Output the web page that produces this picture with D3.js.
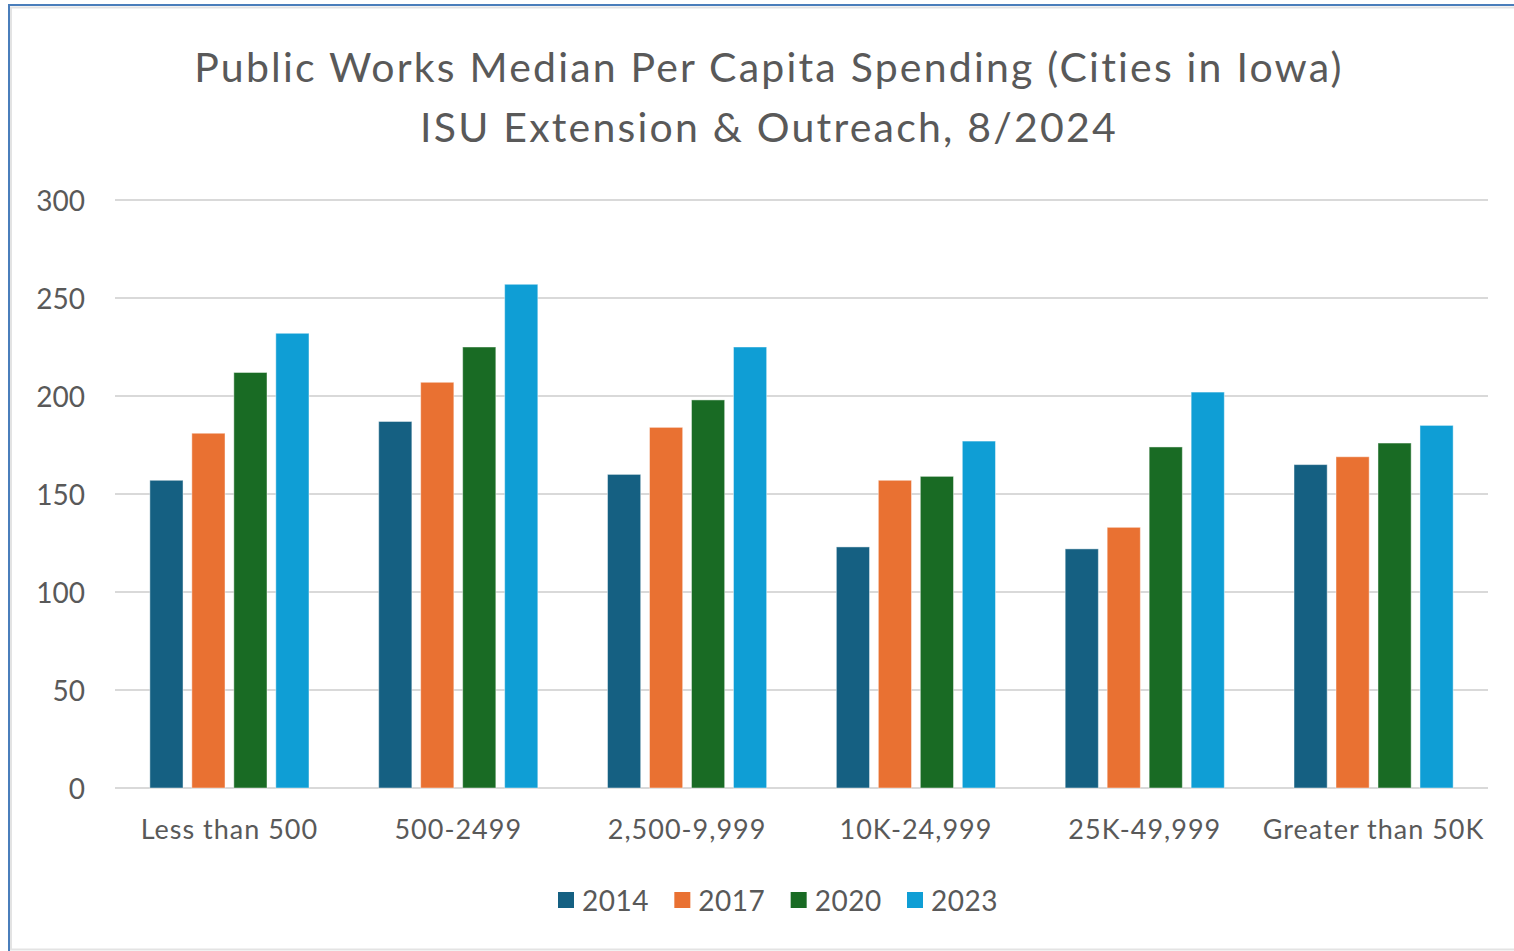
<!DOCTYPE html>
<html>
<head>
<meta charset="utf-8">
<script src="https://cdn.jsdelivr.net/npm/d3@7"></script>
<style>
  body { margin: 0; background: #fff; }
  text { font-family: Lato, "Open Sans", sans-serif; fill: #595959; font-variant-ligatures: none; }
</style>
</head>
<body>
<script>
const WIDTH = 1514
const HEIGHT = 951

const categories = ['Less than 500', '500-2499', '2,500-9,999', '10K-24,999', '25K-49,999', 'Greater than 50K']
const years = ['2014', '2017', '2020', '2023']
const colors = ['#156082', '#E97132', '#196B24', '#0F9ED5']
const values2014 = [157, 187, 160, 123, 122, 165]
const values2017 = [181, 207, 184, 157, 133, 169]
const values2020 = [212, 225, 198, 159, 174, 176]
const values2023 = [232, 257, 225, 177, 202, 185]
const yTicks = [0, 50, 100, 150, 200, 250, 300]
const titleLines = ['Public Works Median Per Capita Spending (Cities in Iowa)', 'ISU Extension & Outreach, 8/2024']

const seriesValues = [values2014, values2017, values2020, values2023]

const svg = d3.select('body').append('svg')
  .attr('width', WIDTH)
  .attr('height', HEIGHT)

// frame
svg.append('rect')
  .attr('x', 11).attr('y', 7.5)
  .attr('width', WIDTH + 20).attr('height', 942)
  .attr('fill', 'none')
  .attr('stroke', '#e3e3e3')
  .attr('stroke-width', 2)
svg.append('rect')
  .attr('x', 9).attr('y', 5)
  .attr('width', WIDTH + 20).attr('height', HEIGHT + 20)
  .attr('fill', 'none')
  .attr('stroke', '#4a7ebb')
  .attr('stroke-width', 2)

const margin = { left: 115, right: 1488, top: 200, bottom: 788 }

const x0 = d3.scaleBand()
  .domain(categories)
  .range([margin.left, margin.right])

const x1 = d3.scaleBand()
  .domain(years)
  .range([0, x0.bandwidth()])
  .paddingInner(0.21)
  .paddingOuter(0.83)

const y = d3.scaleLinear()
  .domain([0, 300])
  .range([margin.bottom, margin.top])

// gridlines
svg.append('g')
  .selectAll('line')
  .data(yTicks)
  .enter()
  .append('line')
  .attr('x1', margin.left)
  .attr('x2', margin.right)
  .attr('y1', (d) => y(d))
  .attr('y2', (d) => y(d))
  .attr('stroke', '#d9d9d9')
  .attr('stroke-width', 2)

// y axis labels
const yAxis = d3.axisLeft(y).tickValues(yTicks).tickSize(0).tickPadding(0)
svg.append('g')
  .attr('transform', 'translate(85,0)')
  .call(yAxis)
  .call((g) => g.select('.domain').remove())
  .selectAll('text')
  .attr('font-size', 28)
  .attr('font-family', 'Lato')
  .attr('fill', '#595959')
  .attr('dy', '0.36em')

// bars
const groups = svg.append('g')
  .selectAll('g')
  .data(categories)
  .enter()
  .append('g')
  .attr('transform', (d) => `translate(${x0(d)},0)`)

groups.selectAll('rect')
  .data((d, i) => years.map((yr, j) => ({ year: yr, value: seriesValues[j][i], color: colors[j] })))
  .enter()
  .append('rect')
  .attr('x', (d) => x1(d.year))
  .attr('width', x1.bandwidth())
  .attr('y', (d) => y(d.value))
  .attr('height', (d) => y(0) - y(d.value))
  .attr('fill', (d) => d.color)
  .attr('stroke', '#ffffff')
  .attr('stroke-opacity', 0.45)
  .attr('stroke-width', 1)

// x axis labels
const xAxis = d3.axisBottom(x0).tickSize(0).tickPadding(0)
svg.append('g')
  .attr('transform', `translate(0,${margin.bottom})`)
  .call(xAxis)
  .call((g) => g.select('.domain').remove())
  .selectAll('text')
  .attr('font-size', 27)
  .attr('font-family', 'Lato')
  .attr('letter-spacing', 1)
  .attr('fill', '#595959')
  .attr('dy', null)
  .attr('y', 51)

// title
svg.append('g')
  .selectAll('text')
  .data(titleLines)
  .enter()
  .append('text')
  .attr('x', 769)
  .attr('y', (d, i) => 82 + i * 60)
  .attr('text-anchor', 'middle')
  .attr('font-size', 41)
  .attr('letter-spacing', 2.2)
  .text((d) => d)

// legend
const legendX = d3.scalePoint()
  .domain(years)
  .range([558, 907])

const legend = svg.append('g')
  .selectAll('g')
  .data(years)
  .enter()
  .append('g')
  .attr('transform', (d) => `translate(${legendX(d)},0)`)

legend.append('rect')
  .attr('x', 0).attr('y', 892)
  .attr('width', 16).attr('height', 16)
  .attr('fill', (d, i) => colors[i])

legend.append('text')
  .attr('x', 24)
  .attr('y', 911)
  .attr('font-size', 28)
  .attr('letter-spacing', 0.5)
  .text((d) => d)
</script>
</body>
</html>
